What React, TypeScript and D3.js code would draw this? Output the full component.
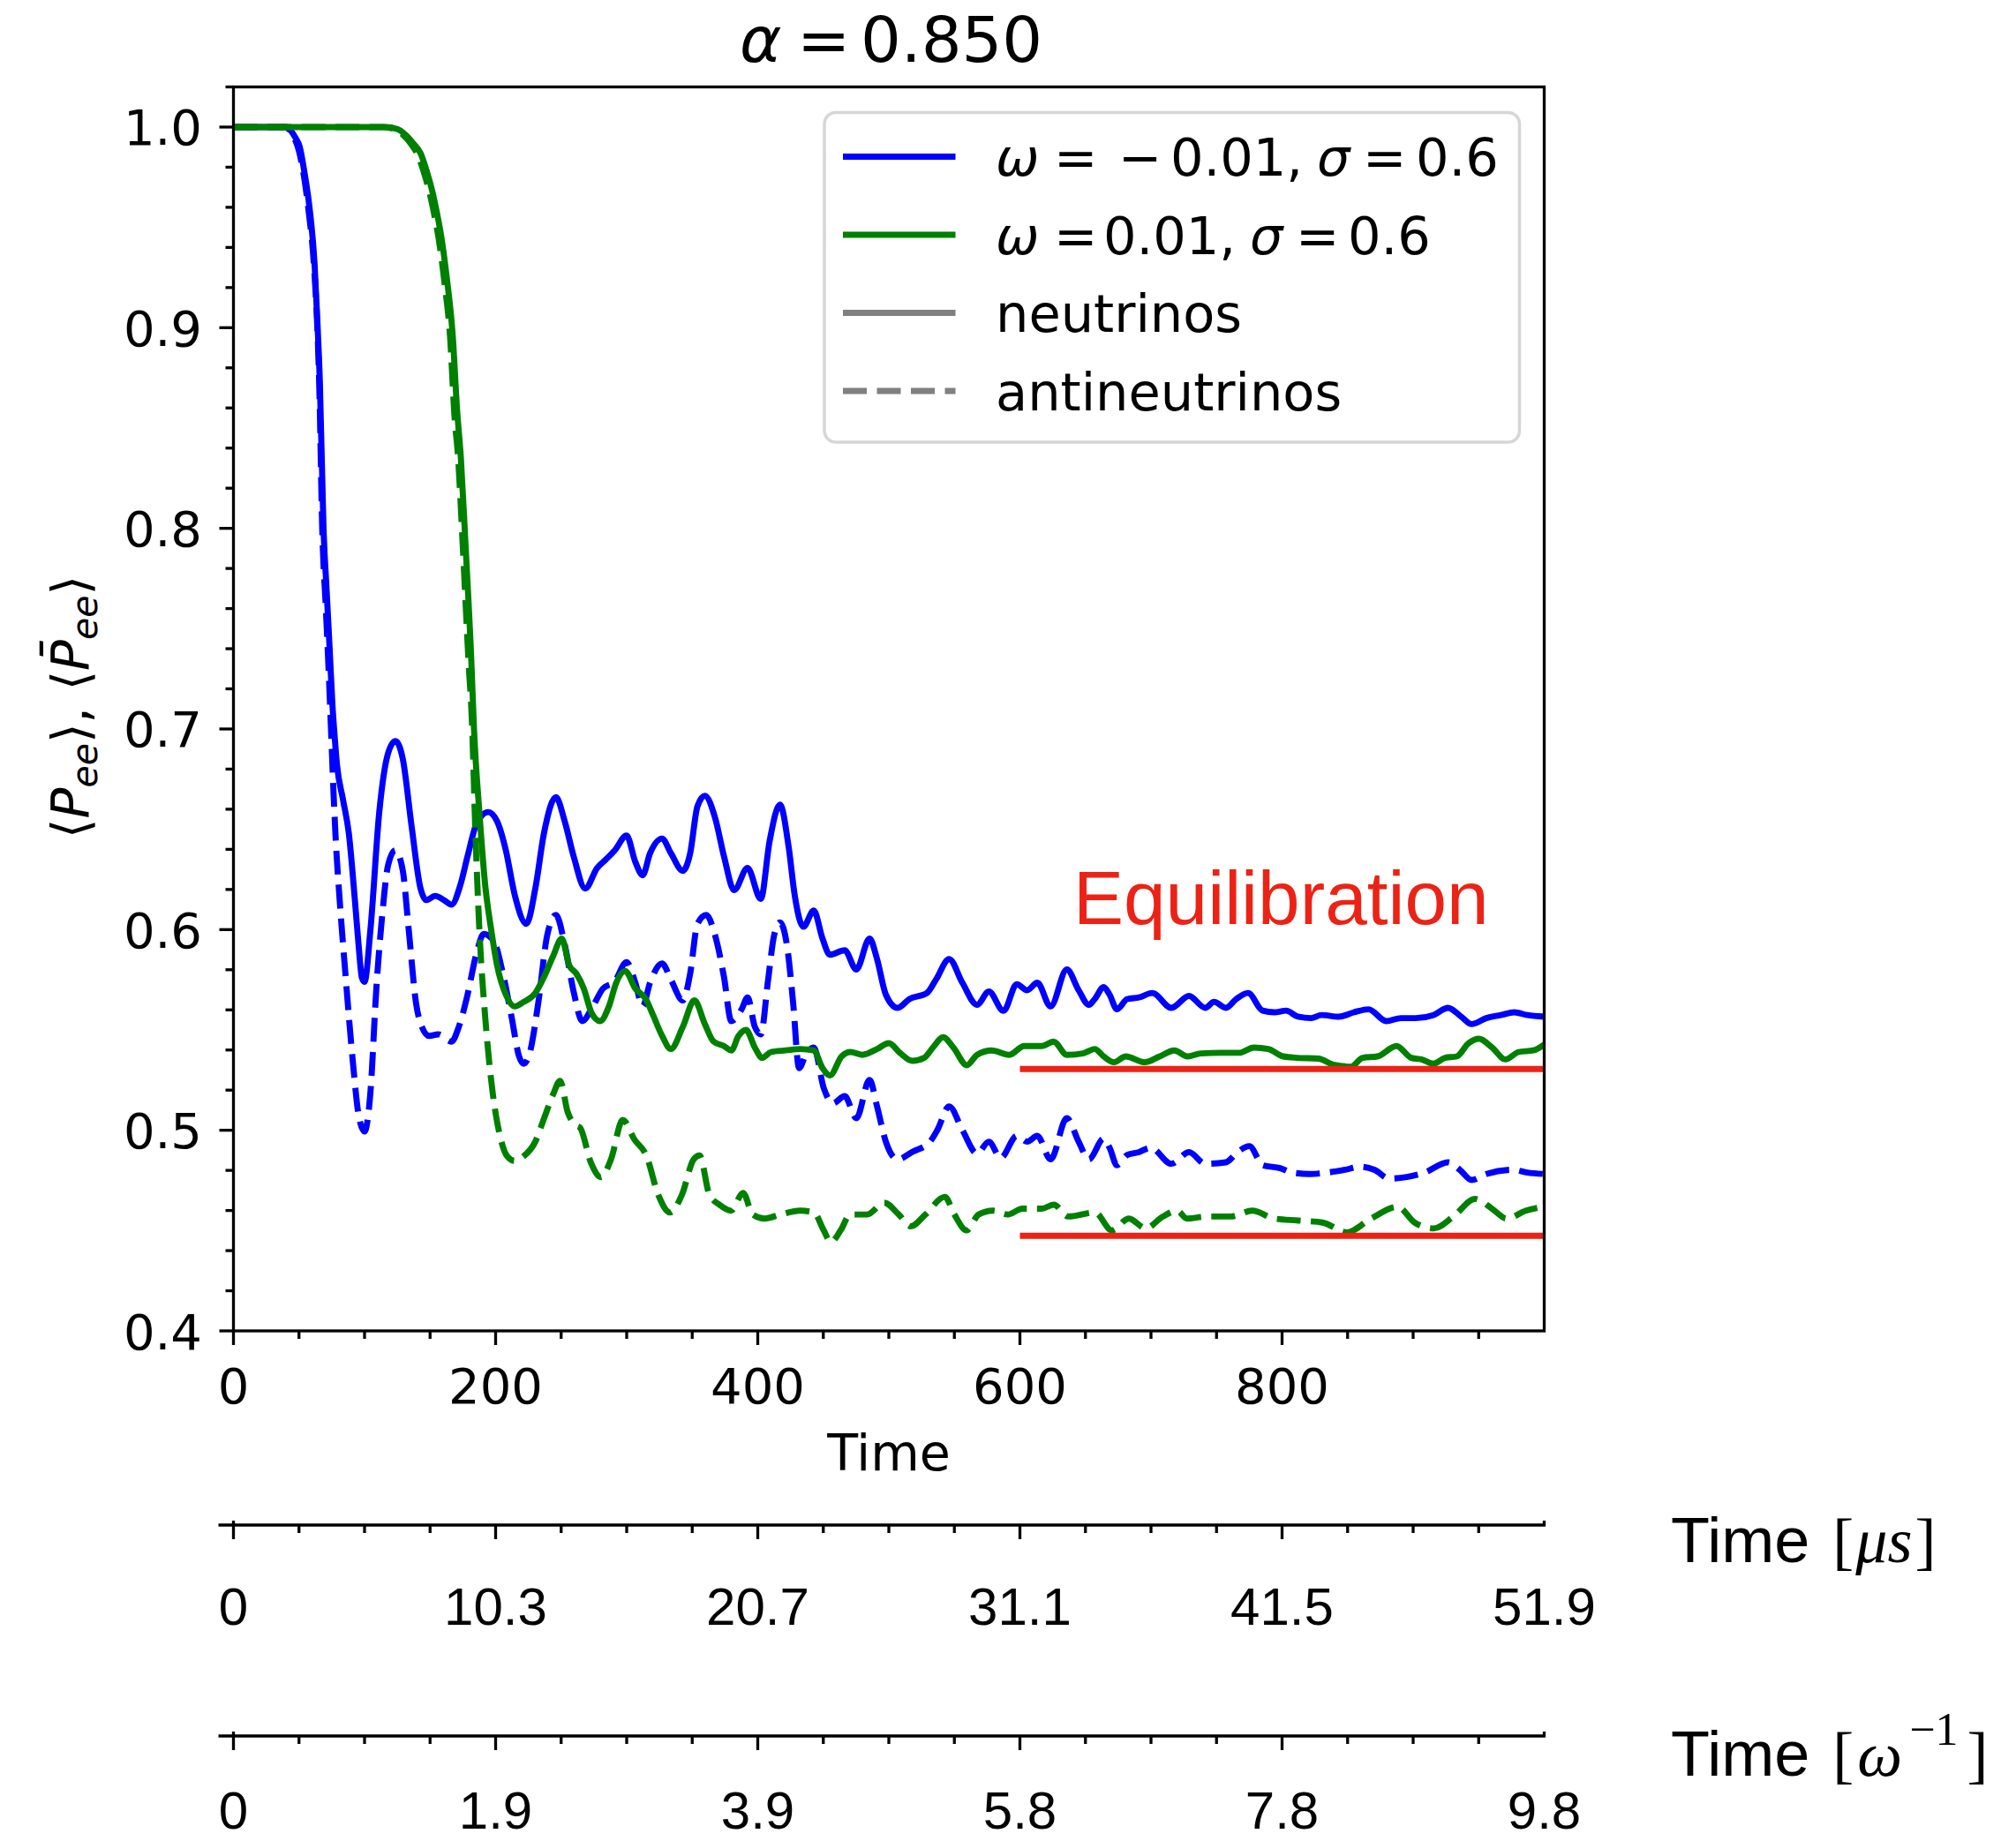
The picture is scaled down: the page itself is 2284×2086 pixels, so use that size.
import React from 'react';
import * as d3 from 'd3';

// ---------------- DATA ----------------
// omega = -0.01 (blue), neutrinos
const nuBlueT = [0, 40, 44, 47, 50.6, 54, 57.8, 61.9, 64.1, 65.9, 68.7, 71, 73.3, 75.5, 77, 79, 83.5, 88, 92.6, 95.5, 98, 100, 104.5, 111.3, 118, 123.6, 129.2, 136, 142.7, 147.2, 153.9, 160.7, 166.3, 173, 178.6, 185.4, 194.3, 201.1, 207.8, 214.5, 223.5, 230.3, 237, 246, 252.7, 259.5, 268.4, 277.4, 284.2, 290.9, 299.9, 306.6, 312.2, 317.8, 327, 333.8, 342.8, 348.4, 354, 359.6, 367.5, 374.2, 382, 392.2, 402.3, 409, 416.9, 423.6, 428.1, 434.8, 442.7, 449.4, 455, 466.3, 475.2, 485.3, 491, 497.7, 506.7, 515.7, 529.1, 535.9, 546, 556.1, 567.3, 576.3, 587.5, 597.6, 605.5, 613.3, 623.4, 635.8, 644.8, 652.6, 657.1, 663.9, 668.4, 674, 681.9, 690.8, 701, 715.5, 729, 741.4, 748.1, 757.1, 765, 774, 785.2, 794.1, 803.1, 812.1, 822.2, 830.1, 843.5, 854.8, 866, 879.5, 890.7, 901.9, 915.4, 926.6, 936.7, 944.6, 955.8, 967, 977.1, 987.2, 1000];
const nuBlueP = [1.0, 1.0, 0.998, 0.995, 0.99, 0.978, 0.961, 0.9315, 0.902, 0.873, 0.80, 0.77, 0.741, 0.712, 0.698, 0.682, 0.665, 0.648, 0.615, 0.592, 0.576, 0.574, 0.6, 0.659, 0.688, 0.694, 0.685, 0.651, 0.6205, 0.6147, 0.6168, 0.6147, 0.6124, 0.622, 0.6366, 0.6527, 0.6586, 0.654, 0.6395, 0.6175, 0.6029, 0.6205, 0.6484, 0.666, 0.654, 0.6366, 0.6205, 0.6307, 0.635, 0.6395, 0.6469, 0.6337, 0.6271, 0.638, 0.6454, 0.638, 0.6293, 0.638, 0.6615, 0.6667, 0.6556, 0.6366, 0.6197, 0.6307, 0.6153, 0.644, 0.6623, 0.641, 0.6175, 0.6014, 0.6095, 0.5955, 0.5875, 0.5897, 0.5801, 0.5955, 0.5853, 0.5676, 0.561, 0.5654, 0.5684, 0.575, 0.5853, 0.5735, 0.5625, 0.5691, 0.5595, 0.5728, 0.5698, 0.5735, 0.5617, 0.5801, 0.5698, 0.5625, 0.5654, 0.5713, 0.5676, 0.5603, 0.5654, 0.5662, 0.5684, 0.561, 0.5669, 0.561, 0.564, 0.561, 0.5654, 0.5684, 0.5596, 0.5588, 0.5596, 0.5566, 0.5559, 0.5574, 0.5566, 0.5588, 0.5603, 0.5544, 0.5559, 0.5559, 0.5574, 0.561, 0.5566, 0.5529, 0.5559, 0.5574, 0.5588, 0.5574, 0.5566];

// omega = -0.01 (blue), antineutrinos
const antiBlueT = [0, 40, 44, 50, 57, 61.5, 64, 65.5, 67.7, 70.5, 73.2, 75, 76.5, 78, 81, 85.4, 91.1, 95.5, 100, 104.5, 109, 113.5, 118, 123.6, 129.2, 133.7, 139.3, 143.8, 149.4, 156.2, 166.3, 171.9, 178.6, 185.4, 191, 198.8, 205.6, 212.3, 217.9, 221.3, 225.8, 232.5, 239.3, 246, 252.7, 259.5, 266.2, 273, 281.9, 290.9, 299.9, 306.6, 312.2, 317.8, 327, 333.8, 342.8, 348.4, 354, 360.7, 367.5, 374.2, 379.8, 387.7, 392.2, 397.8, 402.3, 407.9, 412.4, 416.9, 422.5, 427, 431.5, 437.1, 442.7, 450.5, 457.3, 466.3, 475.2, 485.3, 491, 497.7, 506.7, 517.9, 531.4, 537, 546, 556.1, 567.3, 576.3, 585.3, 597.6, 605.5, 613.3, 623.4, 635.8, 644.8, 652.6, 663.9, 668.4, 674, 681.9, 690.8, 699.8, 715.5, 729, 741.4, 757.1, 766.1, 775, 785.2, 798.6, 807.6, 821.1, 834.6, 848, 859.3, 870.5, 881.7, 895.2, 908.7, 926.6, 935.6, 944.6, 955.8, 976, 987.2, 1000];
const antiBlueP = [1.0, 1.0, 0.997, 0.988, 0.96, 0.93, 0.9, 0.87, 0.8, 0.76, 0.72, 0.69, 0.666, 0.645, 0.615, 0.578, 0.534, 0.5075, 0.4994, 0.519, 0.5706, 0.6073, 0.6322, 0.6395, 0.6293, 0.6, 0.5633, 0.5515, 0.547, 0.5478, 0.5442, 0.5515, 0.5676, 0.5882, 0.5978, 0.594, 0.578, 0.556, 0.5368, 0.5332, 0.538, 0.5633, 0.597, 0.6073, 0.5926, 0.5691, 0.5544, 0.5603, 0.5706, 0.5742, 0.5838, 0.5735, 0.5618, 0.5735, 0.5831, 0.575, 0.5647, 0.578, 0.6029, 0.6073, 0.597, 0.5765, 0.5544, 0.5603, 0.5662, 0.5515, 0.5478, 0.575, 0.597, 0.6036, 0.5911, 0.5633, 0.531, 0.5383, 0.5412, 0.5207, 0.5134, 0.517, 0.506, 0.5251, 0.5119, 0.4943, 0.4855, 0.4892, 0.4943, 0.5001, 0.5119, 0.5001, 0.4884, 0.4943, 0.4862, 0.4972, 0.4943, 0.4972, 0.4855, 0.506, 0.4943, 0.4855, 0.4958, 0.4913, 0.4826, 0.4877, 0.4891, 0.4913, 0.4833, 0.4891, 0.4833, 0.484, 0.4891, 0.4921, 0.4826, 0.4811, 0.4789, 0.4782, 0.4789, 0.4803, 0.4818, 0.4803, 0.4759, 0.4767, 0.4789, 0.484, 0.4803, 0.4752, 0.4782, 0.4803, 0.4789, 0.4782];

// omega = 0.01 (green), neutrinos
const nuGreenT = [0, 116, 125, 131.5, 137, 142.7, 147, 151.7, 155, 158.4, 162.9, 167.4, 170.5, 173.5, 176.9, 181.4, 183.5, 187.6, 192.1, 196.6, 201.1, 207.8, 214.5, 221.3, 230.3, 237, 243.8, 250.5, 256.1, 261.8, 267.3, 273, 279.7, 286.4, 292, 298.8, 306.6, 314.5, 320.1, 327, 333.7, 342.8, 351.7, 359.6, 366.3, 374.2, 379.8, 385.4, 391, 397.8, 403.4, 410.1, 421.3, 432.6, 442.7, 449.4, 455, 464, 470.7, 479.7, 491, 500, 508.9, 517.9, 526.9, 533.6, 541.5, 549.3, 559.5, 567.3, 578.5, 592, 603.2, 616.7, 625.7, 635.8, 648.1, 657.1, 663.9, 671.8, 680.7, 695.3, 706.6, 717.8, 727.9, 738, 753.7, 767.2, 778.4, 789.6, 800.9, 812.1, 827.8, 839, 852.5, 861.5, 872.7, 887.3, 898.6, 906.4, 915.4, 924.4, 933.3, 942.3, 950.2, 960.3, 970.4, 980.5, 991.7, 1000];
const nuGreenP = [1.0, 1.0, 0.999, 0.996, 0.992, 0.987, 0.979, 0.968, 0.958, 0.946, 0.924, 0.895, 0.86, 0.835, 0.7936, 0.735, 0.70, 0.6586, 0.6219, 0.6, 0.5823, 0.5676, 0.5617, 0.5639, 0.5684, 0.5765, 0.5867, 0.5955, 0.5823, 0.5779, 0.5706, 0.5588, 0.5544, 0.5617, 0.5735, 0.5794, 0.5706, 0.5655, 0.5574, 0.5471, 0.5405, 0.5515, 0.5647, 0.553, 0.5442, 0.542, 0.5398, 0.5471, 0.55, 0.5412, 0.5361, 0.539, 0.5398, 0.5405, 0.5398, 0.531, 0.5273, 0.5368, 0.539, 0.5376, 0.5405, 0.5434, 0.5383, 0.5346, 0.5361, 0.5412, 0.5464, 0.5412, 0.5324, 0.5376, 0.5398, 0.5376, 0.542, 0.542, 0.5442, 0.5376, 0.5383, 0.5405, 0.5368, 0.5339, 0.5368, 0.5339, 0.5368, 0.5398, 0.5368, 0.5383, 0.5386, 0.5386, 0.5412, 0.5405, 0.5368, 0.5361, 0.5357, 0.5327, 0.5317, 0.5361, 0.5368, 0.542, 0.5361, 0.5353, 0.5332, 0.5361, 0.5368, 0.5434, 0.5456, 0.5412, 0.5353, 0.539, 0.5398, 0.5427];

// omega = 0.01 (green), antineutrinos
const antiGreenT = [0, 114, 123, 129.5, 135, 140.7, 145, 149.7, 153, 156.4, 160.9, 165.4, 168.5, 171.5, 174.8, 179.3, 182, 184.5, 187.6, 192.1, 197.7, 203.3, 208.9, 214.5, 221.3, 230.3, 237, 243.8, 249.2, 255, 261.8, 264.5, 272.9, 280.4, 288, 297, 306, 315, 324.1, 333.1, 342.1, 351.1, 355.6, 363.1, 370.7, 379.7, 388.7, 396.2, 405.2, 417.3, 432.3, 442.9, 450.3, 455.8, 463.2, 470.6, 483.5, 496.5, 507.6, 516.8, 527.9, 542.7, 550, 559.3, 568.5, 579.6, 590.7, 601.8, 616.6, 625.8, 636.9, 657.2, 670.2, 683.1, 696, 709, 720, 727.4, 742.2, 760.7, 777.3, 793.9, 812.4, 830.9, 849.4, 867.9, 888.2, 901.1, 915.9, 930.7, 947.3, 960.2, 971.3, 986.1, 1000];
const antiGreenP = [1.0, 1.0, 0.999, 0.996, 0.992, 0.986, 0.978, 0.967, 0.957, 0.945, 0.923, 0.894, 0.857, 0.834, 0.793, 0.734, 0.7026, 0.65, 0.6, 0.556, 0.519, 0.4973, 0.487, 0.4848, 0.487, 0.4943, 0.506, 0.5178, 0.5246, 0.509, 0.5023, 0.5012, 0.4835, 0.4766, 0.4855, 0.5051, 0.4953, 0.4874, 0.4678, 0.459, 0.4678, 0.4855, 0.4874, 0.4678, 0.4629, 0.4599, 0.4688, 0.458, 0.456, 0.458, 0.4599, 0.459, 0.4501, 0.4442, 0.4501, 0.458, 0.458, 0.4639, 0.458, 0.4521, 0.458, 0.4668, 0.458, 0.4501, 0.458, 0.4599, 0.458, 0.4609, 0.4609, 0.4629, 0.457, 0.459, 0.4501, 0.456, 0.4511, 0.457, 0.4599, 0.456, 0.457, 0.457, 0.4599, 0.456, 0.455, 0.454, 0.4491, 0.456, 0.4619, 0.454, 0.4511, 0.457, 0.4658, 0.4609, 0.456, 0.4599, 0.4619];

// Equilibration levels (start time, values)
const eqStart = 600;
const eqEnd = 1000;
const eqLevels = [0.5305, 0.4474];

// Axis ticks
const xMajorTicks = [0, 200, 400, 600, 800];
const yMajorTicks = [0.4, 0.5, 0.6, 0.7, 0.8, 0.9, 1.0];
const secTickPositions = [0, 200, 400, 600, 800, 1000];
const usTickLabels = ['0', '10.3', '20.7', '31.1', '41.5', '51.9'];
const omegaTickLabels = ['0', '1.9', '3.9', '5.8', '7.8', '9.8'];

// ---------------- COMPONENT ----------------
const SANS = '"DejaVu Sans", sans-serif';
const ARIAL = '"Liberation Sans", Arial, sans-serif';
const SERIF = '"Liberation Serif", "Times New Roman", serif';
const RED = '#eb2316';
const DASH = '27 11.5';

export default function App() {
  const L = 264.5, R = 1749.5, T = 98.5, B = 1508;
  const x = d3.scaleLinear().domain([0, 1000]).range([L, R]);
  const y = d3.scaleLinear().domain([0.4, 1.02]).range([B, T]);
  const line = d3
    .line<[number, number]>()
    .x((d) => x(d[0]))
    .y((d) => y(d[1]))
    .curve(d3.curveMonotoneX);

  const zip = (ts: number[], vs: number[]) => ts.map((t, i) => [t, vs[i]] as [number, number]);
  const series = [
    { pts: zip(nuBlueT, nuBlueP), color: '#0000ff', dash: null },
    { pts: zip(antiBlueT, antiBlueP), color: '#0000ff', dash: DASH },
    { pts: zip(nuGreenT, nuGreenP), color: '#008000', dash: null },
    { pts: zip(antiGreenT, antiGreenP), color: '#008000', dash: DASH },
  ];

  const LW = 6.9;
  const SW = 3.3;
  const xMinor = d3.range(50, 1000, 50).filter((v) => v % 200 !== 0);
  const yMinor = d3.range(21, 52).filter((i) => i % 5 !== 0).map((i) => i / 50);

  const sec1Y = 1728;
  const sec2Y = 1967;

  const legendRows = [177.5, 266, 354.5, 443];
  const lgX = 1128;

  const secAxis = (yy: number, labels: string[], baseline: number, key: string) => (
    <g key={key}>
      <line x1={247.5} x2={R + 1.5} y1={yy} y2={yy} stroke="#000" strokeWidth={SW} />
      <line x1={x(0)} x2={x(0)} y1={yy - 5} y2={yy} stroke="#000" strokeWidth={SW} />
      <line x1={R} x2={R} y1={yy - 5} y2={yy} stroke="#000" strokeWidth={SW} />
      {secTickPositions.slice(0, 5).map((p) => (
        <line key={'M' + p} x1={x(p)} x2={x(p)} y1={yy} y2={yy + 16} stroke="#000" strokeWidth={SW} />
      ))}
      {xMinor.map((p) => (
        <line key={'m' + p} x1={x(p)} x2={x(p)} y1={yy} y2={yy + 9} stroke="#000" strokeWidth={SW} />
      ))}
      {secTickPositions.map((p, i) => (
        <text key={'l' + p} x={x(p)} y={baseline} textAnchor="middle" fontFamily={ARIAL} fontSize={60}>
          {labels[i]}
        </text>
      ))}
    </g>
  );

  return (
    <svg
      width={2284}
      height={2086}
      viewBox="0 0 2284 2086"
      style={{ position: 'absolute', left: 0, top: 0, display: 'block' }}
      xmlns="http://www.w3.org/2000/svg"
    >
      <rect x={0} y={0} width={2284} height={2086} fill="#ffffff" />
      <defs>
        <clipPath id="plotClip">
          <rect x={L} y={T} width={R - L} height={B - T} />
        </clipPath>
      </defs>

      {/* Title */}
      <text y={70} fontFamily={SANS} fontSize={72} fill="#000">
        <tspan x={838} fontStyle="italic">α</tspan>
        <tspan x={903}>=</tspan>
        <tspan x={975}>0.850</tspan>
      </text>

      {/* Data lines */}
      <g clipPath="url(#plotClip)">
        {series.map((s, i) => (
          <path
            key={i}
            d={line(s.pts) || ''}
            fill="none"
            stroke={s.color}
            strokeWidth={LW}
            strokeDasharray={s.dash || undefined}
            strokeLinejoin="round"
            strokeLinecap={s.dash ? 'butt' : 'round'}
          />
        ))}
        {eqLevels.map((v, i) => (
          <line key={'eq' + i} x1={x(eqStart)} x2={x(eqEnd)} y1={y(v)} y2={y(v)} stroke={RED} strokeWidth={7} />
        ))}
      </g>

      {/* Equilibration label */}
      <text x={1216} y={1047} fontFamily={ARIAL} fontSize={85.5} fill={RED}>
        Equilibration
      </text>

      {/* Spines */}
      <rect x={L} y={T} width={R - L} height={B - T} fill="none" stroke="#000" strokeWidth={SW} />

      {/* X ticks */}
      {xMajorTicks.map((t) => (
        <g key={'xt' + t}>
          <line x1={x(t)} x2={x(t)} y1={B} y2={B + 16} stroke="#000" strokeWidth={SW} />
          <text x={x(t)} y={1590} textAnchor="middle" fontFamily={SANS} fontSize={56}>
            {t}
          </text>
        </g>
      ))}
      {xMinor.map((t) => (
        <line key={'xm' + t} x1={x(t)} x2={x(t)} y1={B} y2={B + 9} stroke="#000" strokeWidth={SW} />
      ))}
      <text x={(L + R) / 2} y={1666} textAnchor="middle" fontFamily={SANS} fontSize={57}>
        Time
      </text>

      {/* Y ticks */}
      {yMajorTicks.map((v) => (
        <g key={'yt' + v}>
          <line x1={L - 16} x2={L} y1={y(v)} y2={y(v)} stroke="#000" strokeWidth={SW} />
          <text x={229} y={y(v) + 20.5} textAnchor="end" fontFamily={SANS} fontSize={56}>
            {v.toFixed(1)}
          </text>
        </g>
      ))}
      {yMinor.map((v) => (
        <line key={'ym' + v} x1={L - 9} x2={L} y1={y(v)} y2={y(v)} stroke="#000" strokeWidth={SW} />
      ))}

      {/* Y label */}
      <text
        transform="translate(100,801) rotate(-90)"
        textAnchor="middle"
        fontFamily={SANS}
        fontSize={58}
      >
        <tspan>⟨</tspan>
        <tspan fontStyle="italic">P</tspan>
        <tspan fontStyle="italic" fontSize={41} dy={10}>ee</tspan>
        <tspan dy={-10}>⟩, ⟨</tspan>
        <tspan fontStyle="italic">P̄</tspan>
        <tspan fontStyle="italic" fontSize={41} dy={10}>ee</tspan>
        <tspan dy={-10}>⟩</tspan>
      </text>

      {/* Legend */}
      <rect
        x={934}
        y={127.5}
        width={787.5}
        height={373.5}
        rx={13}
        ry={13}
        fill="#ffffff"
        fillOpacity={0.8}
        stroke="#d6d6d6"
        strokeWidth={3.5}
      />
      <line x1={955} x2={1082.5} y1={legendRows[0]} y2={legendRows[0]} stroke="#0000ff" strokeWidth={LW} />
      <line x1={955} x2={1082.5} y1={legendRows[1]} y2={legendRows[1]} stroke="#008000" strokeWidth={LW} />
      <line x1={955} x2={1082.5} y1={legendRows[2]} y2={legendRows[2]} stroke="#808080" strokeWidth={LW} />
      <line
        x1={955}
        x2={1082.5}
        y1={legendRows[3]}
        y2={legendRows[3]}
        stroke="#808080"
        strokeWidth={LW}
        strokeDasharray={DASH}
      />
      <text y={legendRows[0] + 21.5} fontFamily={SANS} fontSize={59}>
        <tspan x={lgX} fontStyle="italic">ω</tspan>
        <tspan x={lgX + 66}>=</tspan>
        <tspan x={lgX + 139}>−</tspan>
        <tspan x={lgX + 198}>0.01,</tspan>
        <tspan x={lgX + 364} fontStyle="italic">σ</tspan>
        <tspan x={lgX + 416}>=</tspan>
        <tspan x={lgX + 476}>0.6</tspan>
      </text>
      <text y={legendRows[1] + 21.5} fontFamily={SANS} fontSize={59}>
        <tspan x={lgX} fontStyle="italic">ω</tspan>
        <tspan x={lgX + 66}>=</tspan>
        <tspan x={lgX + 122}>0.01,</tspan>
        <tspan x={lgX + 288} fontStyle="italic">σ</tspan>
        <tspan x={lgX + 340}>=</tspan>
        <tspan x={lgX + 399}>0.6</tspan>
      </text>
      <text x={lgX} y={legendRows[2] + 21.5} fontFamily={SANS} fontSize={59}>
        neutrinos
      </text>
      <text x={lgX} y={legendRows[3] + 21.5} fontFamily={SANS} fontSize={59}>
        antineutrinos
      </text>

      {/* Secondary axes */}
      {secAxis(sec1Y, usTickLabels, 1841, 'us')}
      {secAxis(sec2Y, omegaTickLabels, 2072, 'om')}

      <text x={1893} y={1770} fontSize={72} fontFamily={ARIAL}>
        <tspan fontFamily={ARIAL}>Time </tspan>
        <tspan fontFamily={SERIF} dx={6}>[</tspan>
        <tspan fontFamily={SERIF} fontStyle="italic" dx={2}>μs</tspan>
        <tspan fontFamily={SERIF} dx={3}>]</tspan>
      </text>
      <text x={1893} y={2012} fontSize={72} fontFamily={ARIAL}>
        <tspan fontFamily={ARIAL}>Time </tspan>
        <tspan fontFamily={SERIF} dx={6}>[</tspan>
        <tspan fontFamily={SERIF} fontStyle="italic" dx={4}>ω</tspan>
        <tspan fontFamily={SERIF} fontSize={52} dx={8} dy={-35}>−1</tspan>
        <tspan fontFamily={SERIF} dx={10} dy={35}>]</tspan>
      </text>
    </svg>
  );
}
